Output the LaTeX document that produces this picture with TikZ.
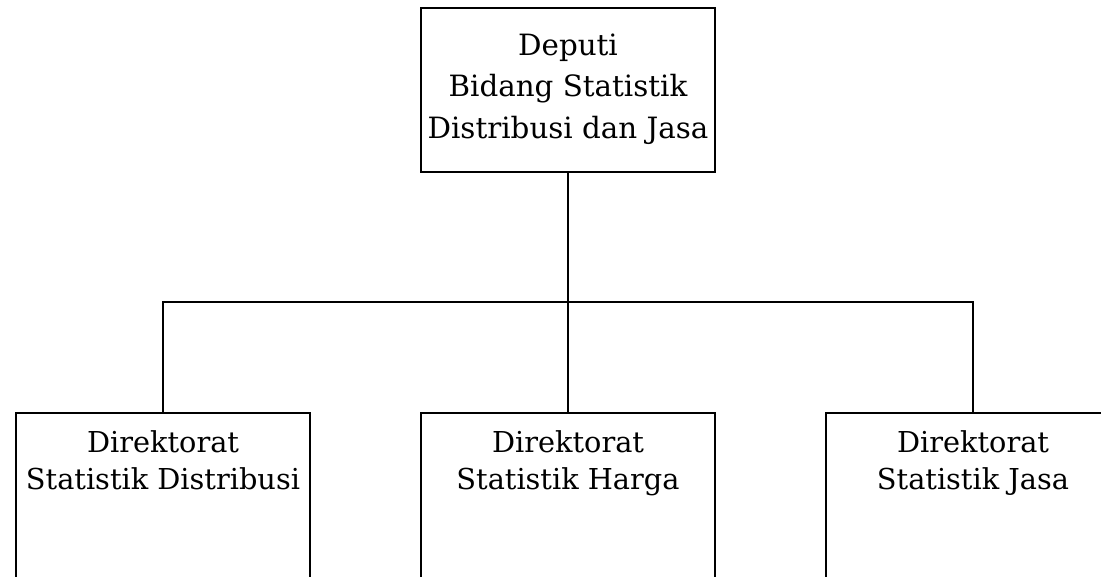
\documentclass[tikz,border=0pt]{standalone}
\usepackage{fontspec}
\setmainfont{DejaVu Serif}
\begin{document}
\begin{tikzpicture}[x=0.75pt,y=-0.75pt,
  box/.style={draw,line width=1.45pt,minimum width=221pt,inner sep=0pt},
  toptxt/.style={align=center,font=\fontsize{22}{31}\selectfont},
  bottxt/.style={align=center,font=\fontsize{21.6}{27.75}\selectfont,anchor=north},
  conn/.style={line width=1.45pt}]
\useasboundingbox (0,0) rectangle (1101,577);
\clip (0,0) rectangle (1101,577);
\fill[white] (0,0) rectangle (1101,577);
\node[box,minimum height=123pt] (top) at (568,90) {};
\node[toptxt] (toptext) at (568,89) {Deputi\\Bidang Statistik\\Distribusi dan Jasa};
\node[box,minimum height=150pt,anchor=north] (d1) at (163,412) {};
\node[box,minimum height=150pt,anchor=north] (d2) at (568,412) {};
\node[box,minimum height=150pt,anchor=north] (d3) at (973,412) {};
\node[bottxt] (t1) at (163,426) {Direktorat\\Statistik Distribusi};
\node[bottxt] (t2) at (568,426) {Direktorat\\Statistik Harga};
\node[bottxt] (t3) at (973,426) {Direktorat\\Statistik Jasa};
\coordinate (hub) at (568,302);
\draw[conn] (top.south) -- (hub);
\draw[conn] (hub) -| (d1.north);
\draw[conn] (hub) -| (d3.north);
\draw[conn] (hub) -- (d2.north);
\end{tikzpicture}
\end{document}
